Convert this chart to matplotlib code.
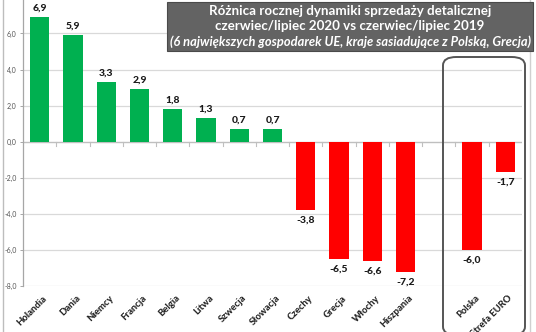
import matplotlib
matplotlib.use("Agg")
import matplotlib.pyplot as plt
from matplotlib.patches import FancyBboxPatch, Rectangle
from matplotlib.lines import Line2D
import numpy as np

plt.rcParams['font.family'] = ['Lato', 'DejaVu Sans']

categories = ["Holandia", "Dania", "Niemcy", "Francja", "Belgia", "Litwa", "Szwecja",
              "Słowacja", "Czechy", "Grecja", "Włochy", "Hiszpania", "", "Polska", "Strefa EURO"]
values = [6.9, 5.9, 3.3, 2.9, 1.8, 1.3, 0.7, 0.7, -3.8, -6.5, -6.6, -7.2, np.nan, -6.0, -1.7]
yticks = [-8, -6, -4, -2, 0, 2, 4, 6]
title_lines = ["Różnica rocznej dynamiki sprzedaży detalicznej",
               "czerwiec/lipiec 2020 vs czerwiec/lipiec 2019",
               "(6 największych gospodarek UE, kraje sasiadujące z Polską, Grecja)"]

GREEN = "#00b050"
RED = "#ff0000"

W, H = 536, 332
fig = plt.figure(figsize=(W / 100, H / 100), dpi=100)
fig.patch.set_facecolor("white")

def fx(px):
    return px / W

def fy(py):
    return 1 - py / H

ax = fig.add_axes([fx(23), fy(286), fx(522) - fx(23), fy(-2.6) - fy(286)])
ax.set_facecolor("white")

x = np.arange(len(categories))
vals = np.array(values, dtype=float)
colors = [GREEN if (v >= 0) else RED for v in np.nan_to_num(vals)]
ax.bar(x, np.nan_to_num(vals), width=0.58, color=colors, zorder=3)

for xi, v in zip(x, vals):
    if np.isnan(v):
        continue
    label = f"{v:.1f}".replace(".", ",")
    if v >= 0:
        ax.annotate(label, (xi, v), xytext=(0, 3.5), textcoords="offset points",
                    ha="center", va="bottom", fontsize=7.5, fontweight="black", color="#1a1a1a")
    else:
        ax.annotate(label, (xi, v), xytext=(0, -4), textcoords="offset points",
                    ha="center", va="top", fontsize=7.5, fontweight="black", color="#1a1a1a")

ax.set_xlim(-0.5, len(categories) - 0.5)
ax.set_ylim(-8, 8)
ax.set_yticks(yticks)
ax.set_yticklabels([f"{t:.1f}".replace(".", ",") for t in yticks], fontsize=5, color="#555555")
ax.yaxis.grid(True, color="#d9d9d9", linewidth=0.9, zorder=0)
ax.tick_params(axis="y", length=2.5, width=0.6, color="#999999", pad=2)

for s in ["top", "right", "bottom"]:
    ax.spines[s].set_visible(False)
ax.spines["left"].set_color("#a6a6a6")
ax.spines["left"].set_linewidth(0.9)

# category axis sits at zero, with tick marks on slot boundaries
ax.axhline(0, color="#bfbfbf", linewidth=0.9, zorder=2)
ax.set_xticks([])
for b in np.arange(0.5, len(categories) - 0.5, 1.0):
    ax.plot([b, b], [0, -0.22], color="#bfbfbf", linewidth=0.8, zorder=2, clip_on=False)

# rotated category labels below the plot area
for xi, c in zip(x, categories):
    if not c:
        continue
    ax.annotate(c, (xi, -8), xytext=(2, -5.5), textcoords="offset points",
                rotation=45, rotation_mode="anchor", ha="right", va="top",
                fontsize=6.8, fontweight="black", color="#262626", annotation_clip=False)

# chart frame edges
fig.add_artist(Line2D([fx(3), fx(3)], [0, 1], color="#bdbdbd", linewidth=1.0))
fig.add_artist(Line2D([fx(530), fx(530)], [0, 1], color="#d0d0d0", linewidth=1.0))

# frame around Poland and the euro area
box = FancyBboxPatch((fx(443), fy(335)), fx(525) - fx(443), fy(57) - fy(335),
                     boxstyle="round,pad=0,rounding_size=0.025",
                     transform=fig.transFigure, fill=False,
                     edgecolor="#555555", linewidth=1.4, zorder=5)
fig.add_artist(box)

# title panel
title_box = Rectangle((fx(167), fy(51)), fx(533) - fx(167), fy(2) - fy(51),
                      transform=fig.transFigure, facecolor="#636363",
                      edgecolor="#4a4a4a", linewidth=0.8, zorder=6)
fig.add_artist(title_box)
cx = fx(350)
fig.text(cx, fy(11), title_lines[0], ha="center", va="center", color="white",
         fontsize=9.6, fontweight="bold", zorder=7)
fig.text(cx, fy(26.5), title_lines[1], ha="center", va="center", color="white",
         fontsize=9.6, fontweight="bold", zorder=7)
fig.text(cx, fy(42), title_lines[2], ha="center", va="center", color="white",
         fontsize=9.3, fontweight="bold", fontstyle="italic", zorder=7)

fig.savefig("out.png", dpi=100)
